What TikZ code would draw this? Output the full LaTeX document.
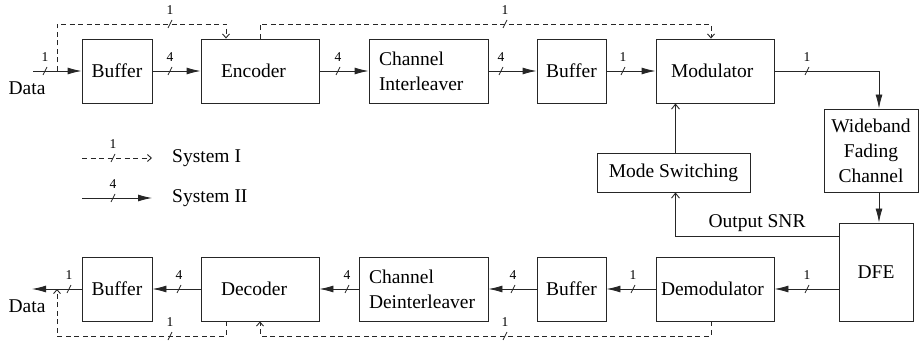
\documentclass[tikz,border=0pt]{standalone}
\usepackage{fontspec}
\setmainfont{Liberation Serif}
\usetikzlibrary{arrows.meta, calc}

\tikzset{
  block/.style={draw=black!85, line width=0.9pt, inner sep=0pt, align=center, font=\fontsize{19.5}{25}\selectfont},
  txt/.style={inner sep=0pt, font=\fontsize{19.5}{25}\selectfont},
  buslbl/.style={inner sep=0pt, font=\fontsize{13.5}{15}\selectfont},
  busmark/.style={draw=black!85, line width=0.7pt},
  sysII/.style={draw=black!85, line width=0.9pt, -{Latex[length=14pt,width=7pt]}},
  sysI/.style={draw=black!85, line width=0.9pt, dash pattern=on 5pt off 3.5pt, -{Straight Barb[length=4pt,width=7pt]}},
  ctrl/.style={draw=black!85, line width=0.9pt, -{Straight Barb[length=5pt,width=8pt]}},
}

\begin{document}
\begin{tikzpicture}[x=1pt,y=1pt,yscale=-1,xscale=1]
    \useasboundingbox (0,0) rectangle (919,342);

    % Transmitter row
    \node[block, minimum width=70pt, minimum height=64pt] (buf1) at (117,71) {Buffer};
    \node[block, minimum width=118pt, minimum height=64pt, text width=78pt, align=left] (enc) at (260,71) {Encoder};
    \node[block, minimum width=119pt, minimum height=64pt, text width=99pt, align=left] (intl) at (428.5,71) {Channel\\Interleaver};
    \node[block, minimum width=69pt, minimum height=64pt] (buf2) at (571.5,71) {Buffer};
    \node[block, minimum width=118pt, minimum height=64pt, text width=88pt, align=left] (mod) at (715,71) {Modulator};
    % Channel and feedback
    \node[block, minimum width=94pt, minimum height=83pt] (wfc) at (871,150.5) {Wideband\\Fading\\Channel};
    \node[block, minimum width=153pt, minimum height=39pt] (ms) at (673.5,172.5) {Mode Switching};
    \node[block, minimum width=74pt, minimum height=98pt] (dfe) at (876,272) {DFE};
    % Receiver row
    \node[block, minimum width=118pt, minimum height=64pt, text width=108pt, align=left] (demod) at (715,289) {Demodulator};
    \node[block, minimum width=69pt, minimum height=64pt] (buf3) at (571.5,289) {Buffer};
    \node[block, minimum width=129pt, minimum height=64pt, text width=109pt, align=left] (deintl) at (423.5,289) {Channel\\Deinterleaver};
    \node[block, minimum width=118pt, minimum height=64pt, text width=78pt, align=left] (dec) at (260,289) {Decoder};
    \node[block, minimum width=70pt, minimum height=64pt] (buf4) at (117,289) {Buffer};

    % Text Node
    \node[txt] (datain) at (27,88) {Data};
    % Text Node
    \node[txt] (dataout) at (27,306) {Data};

    % free ends and dashed bus levels
    \coordinate (in) at (33,71);
    \coordinate (out) at (32,289);
    \coordinate (tap1) at (57,71);
    \coordinate (tap2) at (57,289);
    \coordinate (bustop) at (0,24);
    \coordinate (busbot) at (0,336);

    % System II paths
    \draw[sysII] (in) -- (buf1);
    \draw[sysII] (buf1) -- (enc);
    \draw[sysII] (enc) -- (intl);
    \draw[sysII] (intl) -- (buf2);
    \draw[sysII] (buf2) -- (mod);
    \draw[sysII] (mod.east) -| ([xshift=8pt]wfc.north);
    \draw[sysII] ([xshift=8pt]wfc.south) -- ([xshift=8pt]wfc.south |- dfe.north);
    \draw[sysII] (dfe.west |- demod.east) -- (demod);
    \draw[sysII] (demod) -- (buf3);
    \draw[sysII] (buf3) -- (deintl);
    \draw[sysII] (deintl) -- (dec);
    \draw[sysII] (dec) -- (buf4);
    \draw[sysII] (buf4) -- (out);

    % mode switching loop
    \draw[ctrl] ([xshift=2pt]ms.north) -- ([xshift=2pt]ms.north |- mod.south);
    \draw[ctrl] ([yshift=14pt]dfe.north west) -| node[pos=0.25, above=4.5pt, txt] (snr) {Output SNR} ([xshift=2pt]ms.south);

    % System I paths
    \draw[sysI] (tap1) -- (tap1 |- bustop) -| ([xshift=-34pt]enc.north);
    \draw[sysI] (enc.north) -- (enc.north |- bustop) -| ([xshift=-4pt]mod.north);
    \draw[sysI] ([xshift=-4pt]demod.south) -- ([xshift=-4pt]demod.south |- busbot) -| (dec.south);
    \draw[sysI] ([xshift=-34pt]dec.south) -- ([xshift=-34pt]dec.south |- busbot) -| (tap2);

    % Legend
    \coordinate (leg1a) at (82,158);
    \coordinate (leg1b) at (152,158);
    \coordinate (leg2a) at (82,198);
    \coordinate (leg2b) at (152,198);
    \draw[sysI] (leg1a) -- (leg1b);
    \draw[sysII] (leg2a) -- (leg2b);
    \node[txt, anchor=west] (sys1) at (172,158) {System I};
    \node[txt, anchor=west] (sys2) at (172,198) {System II};

    % bus width marks
    \foreach \x/\y/\n in {45/71/1, 170/71/4, 338/71/4, 501/71/4, 623/71/1, 807/71/1,
                          170/24/1, 505/24/1,
                          807/289/1, 633/289/1, 513/289/4, 347/289/4, 179/289/4, 69/289/1,
                          505/336/1, 170/336/1,
                          113/158/1, 113/198/4}
    {
      \draw[busmark] (\x-2,\y+4) -- (\x+2,\y-4);
      \node[buslbl] at (\x,\y-14) {\n};
    }

\end{tikzpicture}
\end{document}
